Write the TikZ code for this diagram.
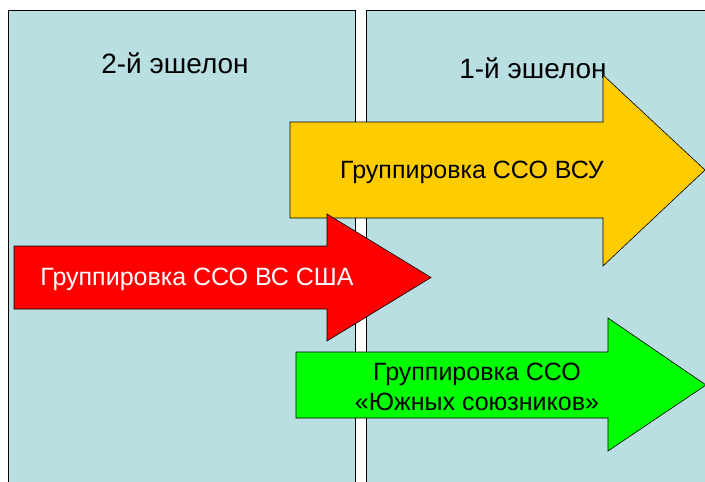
\documentclass[tikz,border=0pt]{standalone}
\usepackage{fontspec}
\setmainfont{Liberation Sans}
\definecolor{echelonblue}{RGB}{186,223,227}
\definecolor{ssoyellow}{RGB}{255,204,0}
\definecolor{ssored}{RGB}{255,0,0}
\definecolor{ssogreen}{RGB}{0,255,0}
\tikzstyle{panel} = [fill=echelonblue, draw=black, line width=0.6pt]
\tikzstyle{bigarrow} = [draw=black, line width=0.6pt, line join=miter]
\tikzstyle{grouptext} = [font=\fontsize{25}{30}\selectfont, align=center, inner sep=0pt]
\tikzstyle{echelontext} = [font=\fontsize{28}{32}\selectfont, inner sep=0pt]

\begin{document}
\begin{tikzpicture}[x=1pt, y=-1pt]
\clip (0,0) rectangle (705,482);
\fill[white] (0,0) rectangle (705,482);

% Echelons
\draw[panel] (8,10) rectangle (355,495);
\draw[panel] (366,10) rectangle (720,495);
\node[echelontext] (second) at (175,63) {2-й эшелон};
\node[echelontext] (first) at (533,68) {1-й эшелон};

% Groupings as arrows: colour / left / body top / body bottom / head x / head top / head bottom / tip x
\foreach \col/\xl/\bt/\bb/\hx/\ht/\hb/\tx in {ssoyellow/290/122/218/603/75/266/705, ssored/14/246/309/327/214/341/431, ssogreen/296/352/418/608/318/451/706} {
    \draw[bigarrow, fill=\col] (\xl,\bt) -- (\hx,\bt) -- (\hx,\ht) -- (\tx,{(\bt+\bb)/2}) -- (\hx,\hb) -- (\hx,\bb) -- (\xl,\bb) -- cycle;
}

\node[grouptext] (ssoua) at (472,172) {Группировка ССО ВСУ};
\node[grouptext, text=white] (ssous) at (197,279) {Группировка ССО ВС США};
\node[grouptext] (ssosouth) at (477,387) {Группировка ССО\\«Южных союзников»};
\end{tikzpicture}
\end{document}
